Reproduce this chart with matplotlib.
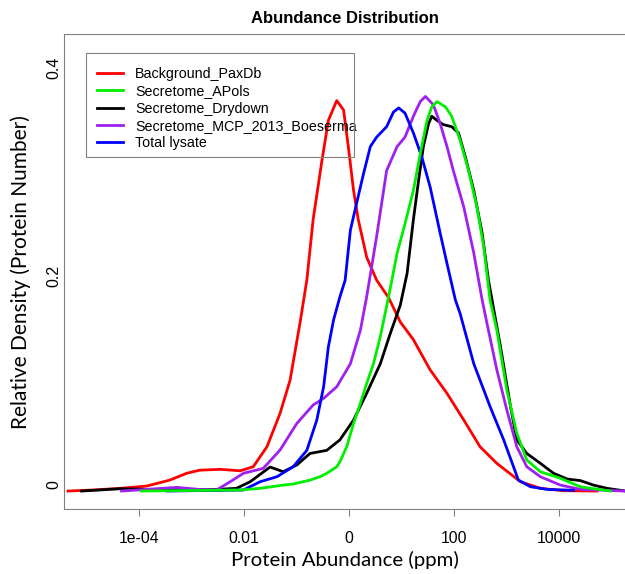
import matplotlib
matplotlib.use('Agg')
import matplotlib.pyplot as plt
import matplotlib.transforms as mtransforms
from matplotlib.patches import Rectangle

# log10(ppm) positions and densities
paxdb_log10 = [-5.35, -4.87, -4.36, -3.85, -3.41, -3.09, -2.84, -2.45, -2.07, -1.82, -1.56, -1.31,
               -1.12, -0.93, -0.80, -0.68, -0.52, -0.39, -0.23, -0.10, -0.01, 0.09, 0.18, 0.34,
               0.53, 0.76, 0.98, 1.23, 1.55, 1.87, 2.19, 2.50, 2.82, 3.27, 3.65, 4.09, 4.73]
paxdb_density = [0.0, 0.001, 0.0026, 0.0048, 0.0105, 0.017, 0.020, 0.0208, 0.0194, 0.0233, 0.0424, 0.0744,
                 0.106, 0.161, 0.202, 0.260, 0.314, 0.355, 0.374, 0.365, 0.330, 0.288, 0.260, 0.224,
                 0.202, 0.185, 0.162, 0.145, 0.116, 0.0936, 0.068, 0.0424, 0.0265, 0.0089, 0.0026, 0.0003, 0.0]

apols_log10 = [-3.95, -2.07, -1.69, -1.25, -1.06, -0.74, -0.55, -0.42, -0.23, -0.17, -0.04, 0.09,
               0.22, 0.34, 0.47, 0.60, 0.72, 0.82, 0.92, 1.07, 1.23, 1.36, 1.49, 1.58, 1.68,
               1.84, 1.96, 2.12, 2.28, 2.44, 2.57, 2.69, 2.82, 3.01, 3.20, 3.39, 3.65, 4.03, 4.41, 4.98]
apols_density = [0.0, 0.001, 0.0026, 0.0057, 0.0067, 0.0105, 0.0137, 0.017, 0.0233, 0.028, 0.0424, 0.0648,
                 0.084, 0.103, 0.122, 0.148, 0.177, 0.202, 0.228, 0.256, 0.288, 0.323, 0.355, 0.368, 0.373,
                 0.368, 0.359, 0.336, 0.307, 0.272, 0.234, 0.183, 0.154, 0.0967, 0.0553, 0.0297, 0.0185,
                 0.0122, 0.0041, 0.0]

drydown_log10 = [-5.09, -4.36, -3.60, -2.58, -2.14, -1.88, -1.50, -1.25, -0.99, -0.74, -0.42, -0.17,
                 0.09, 0.34, 0.60, 0.79, 0.98, 1.11, 1.23, 1.33, 1.42, 1.52, 1.58, 1.68, 1.80, 1.96,
                 2.09, 2.22, 2.38, 2.54, 2.66, 2.89, 3.08, 3.20, 3.39, 3.65, 3.90, 4.16, 4.41, 4.66,
                 4.92, 5.27]
drydown_density = [0.0, 0.0022, 0.0014, 0.0014, 0.0026, 0.0089, 0.023, 0.0185, 0.025, 0.036, 0.039, 0.049,
                   0.068, 0.0936, 0.122, 0.151, 0.178, 0.2085, 0.260, 0.298, 0.330, 0.352, 0.359, 0.355,
                   0.351, 0.349, 0.343, 0.320, 0.288, 0.247, 0.202, 0.138, 0.081, 0.049, 0.036, 0.0265,
                   0.017, 0.0115, 0.010, 0.0057, 0.0026, 0.0]

mcp_log10 = [-4.33, -3.28, -2.84, -2.52, -2.26, -2.01, -1.63, -1.31, -0.99, -0.68, -0.48, -0.23,
             0.03, 0.22, 0.34, 0.53, 0.72, 0.92, 1.07, 1.23, 1.36, 1.46, 1.61, 1.74, 1.87, 1.99,
             2.19, 2.38, 2.54, 2.63, 2.82, 3.01, 3.20, 3.39, 3.65, 4.03, 4.41, 5.27]
mcp_density = [0.0, 0.0035, 0.0015, 0.001, 0.0089, 0.017, 0.0217, 0.0393, 0.0648, 0.0824, 0.0888, 0.0999,
               0.122, 0.154, 0.186, 0.244, 0.307, 0.330, 0.339, 0.359, 0.373, 0.378, 0.370, 0.352, 0.330,
               0.307, 0.272, 0.228, 0.183, 0.161, 0.116, 0.0776, 0.0424, 0.0233, 0.0137, 0.0057, 0.0016, 0.0]

lysate_log10 = [-3.46, -2.01, -1.69, -1.37, -1.06, -0.80, -0.61, -0.48, -0.39, -0.29, -0.17, -0.07,
                0.03, 0.15, 0.28, 0.41, 0.53, 0.72, 0.85, 0.95, 1.07, 1.23, 1.39, 1.55, 1.74, 1.87,
                2.03, 2.12, 2.38, 2.69, 2.95, 3.23, 3.46, 3.78, 4.28]
lysate_density = [0.0, 0.001, 0.0089, 0.0137, 0.0233, 0.039, 0.068, 0.0999, 0.138, 0.164, 0.186, 0.202,
                  0.250, 0.276, 0.304, 0.330, 0.339, 0.349, 0.363, 0.367, 0.362, 0.343, 0.320, 0.291,
                  0.247, 0.218, 0.183, 0.170, 0.122, 0.081, 0.049, 0.0105, 0.0041, 0.0016, 0.0007]

series_names = ['Background_PaxDb', 'Secretome_APols', 'Secretome_Drydown',
                'Secretome_MCP_2013_Boeserma', 'Total lysate']
series_colors = ['#ff0000', '#00ee00', '#000000', '#a020f0', '#0000ff']

tick_pos = [-4, -2, 0, 2, 4]
tick_labels = ['1e-04', '0.01', '0', '100', '10000']
ytick_pos = [0, 0.2, 0.4]
ytick_labels = ['0', '0.2', '0.4']

fig = plt.figure(figsize=(6.25, 5.74), dpi=100)
ax = fig.add_axes([64.3 / 625, 65 / 574, (626 - 64.3) / 625, (539.7 - 65) / 574])

xs = [paxdb_log10, apols_log10, drydown_log10, mcp_log10, lysate_log10]
ys = [paxdb_density, apols_density, drydown_density, mcp_density, lysate_density]
lines = {}
for i in [0, 2, 3, 4, 1]:
    ln, = ax.plot(xs[i], ys[i], color=series_colors[i], lw=2, label=series_names[i])
    lines[i] = ln

ax.set_xlim(-5.42, 5.28)
ax.set_ylim(-0.0172, 0.4375)

ax.set_xticks(tick_pos)
ax.set_xticklabels(tick_labels, fontsize=11.3, family='Liberation Sans')
ax.set_yticks(ytick_pos)
ax.set_yticklabels(ytick_labels, fontsize=11.5, family='Liberation Sans', rotation=90, va='center')
ax.tick_params(axis='x', length=5, width=0.8, color='#808080', pad=10.5)
ax.tick_params(axis='y', length=0, pad=2)
shift = mtransforms.ScaledTranslation(0, 0.06, fig.dpi_scale_trans)
for lab in ax.get_yticklabels():
    lab.set_transform(lab.get_transform() + shift)

for side in ['left', 'bottom', 'top']:
    ax.spines[side].set_color('#808080')
    ax.spines[side].set_linewidth(0.8)
ax.spines['right'].set_visible(False)

ax.set_title('Abundance Distribution', fontsize=12, fontweight='bold', family='Liberation Sans', pad=8)
ax.set_xlabel('Protein Abundance (ppm)', fontsize=14.7, family='Lato', labelpad=4)
ax.set_ylabel('Relative Density (Protein Number)', fontsize=15, family='Lato', labelpad=11)

leg = ax.legend([lines[i] for i in range(5)], series_names, loc='upper left',
                bbox_to_anchor=(97.3 / 625, 507 / 574), bbox_transform=fig.transFigure,
                frameon=False, borderpad=0, borderaxespad=0, handlelength=1.8,
                handletextpad=0.86, labelspacing=0.23, prop={'family': 'Liberation Sans', 'size': 10.3})
fig.add_artist(Rectangle((85.7 / 625, (574 - 157.3) / 574), (354 - 85.7) / 625, (157.3 - 52.7) / 574,
                         transform=fig.transFigure, fill=False, edgecolor='#808080', lw=0.8))

fig.savefig('out.png', dpi=100)
